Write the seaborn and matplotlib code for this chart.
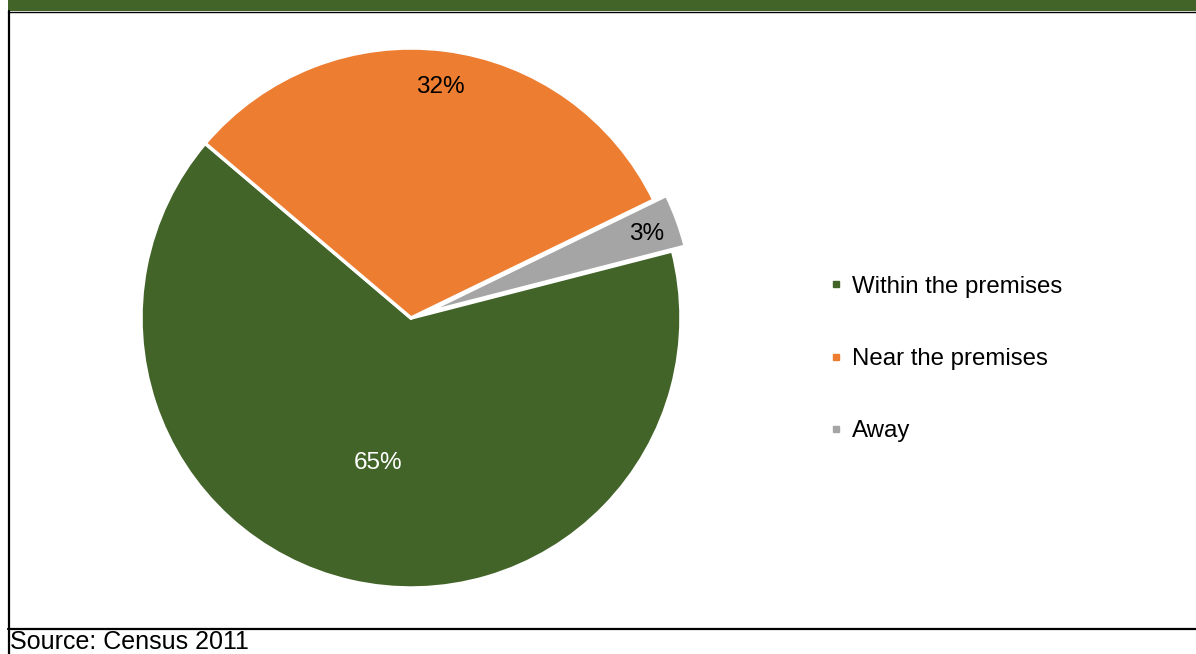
import numpy as np
import matplotlib
matplotlib.use("Agg")
import matplotlib.pyplot as plt
import seaborn as sns
from matplotlib.lines import Line2D
from matplotlib.patches import Rectangle

categories = ["Within the premises", "Near the premises", "Away"]
values = [65.2, 31.6, 3.2]
labels_pct = ["65%", "32%", "3%"]
colors = ["#426428", "#ED7D31", "#A5A5A5"]
source = "Source: Census 2011"

sns.set_theme(style="white")
plt.rcParams['font.family'] = ['Liberation Sans', 'DejaVu Sans']
plt.rcParams['text.color'] = 'black'

W, H = 1196, 654
fig = plt.figure(figsize=(W / 100, H / 100), dpi=100)

# pie axes: center (411,318), radius 270 px
r = 270
cx, cy = 411, 318
ax = fig.add_axes([(cx - r) / W, 1 - (cy + r) / H, 2 * r / W, 2 * r / H])
wedges, texts, autotexts = ax.pie(
    values, colors=colors, startangle=14.4, counterclock=False,
    explode=[0, 0, 0.05], radius=1.0,
    autopct=lambda p: "", pctdistance=0.88,
    wedgeprops=dict(edgecolor="white", linewidth=2.5),
)
dists = [0.54, 0.87, 0.88]
for w, lab, d, at in zip(wedges, labels_pct, dists, autotexts):
    ang = np.deg2rad((w.theta1 + w.theta2) / 2)
    x0, y0 = w.center
    at.set_text(lab)
    at.set_position((x0 + d * np.cos(ang), y0 + d * np.sin(ang)))
    at.set_fontsize(17.5)
    at.set_color("white" if lab == "65%" else "black")
    at.set_ha("center")
    at.set_va("center_baseline")
ax.set_xlim(-1, 1)
ax.set_ylim(-1, 1)
ax.set_aspect("equal")
ax.axis("off")

handles = [Line2D([0], [0], marker="s", linestyle="", markersize=5,
                  markerfacecolor=c, markeredgecolor=c) for c in colors]
leg = fig.legend(handles, categories, loc="center left",
                 bbox_to_anchor=(829 / W, 1 - 359 / H), frameon=False,
                 fontsize=17.3, labelspacing=2.1, handlelength=0.6,
                 handletextpad=0.35, borderpad=0, borderaxespad=0)
for t in leg.get_texts():
    t.set_color("black")

# decorations: header bar, borders
fig.add_artist(Rectangle((8 / W, 1 - 11 / H), 1 - 8 / W, 11 / H,
                         transform=fig.transFigure, facecolor="#426428",
                         edgecolor="none"))
fig.add_artist(Line2D([8 / W, 1], [1 - 11.5 / H, 1 - 11.5 / H],
                      transform=fig.transFigure, color="black", lw=1.0))
fig.add_artist(Line2D([9 / W, 9 / W], [0, 1 - 11 / H],
                      transform=fig.transFigure, color="black", lw=1.6))
fig.add_artist(Line2D([8 / W, 1], [1 - 628.5 / H, 1 - 628.5 / H],
                      transform=fig.transFigure, color="black", lw=1.6))

fig.text(10 / W, 1 - 642 / H, source, fontsize=18, ha="left", va="center",
         color="black")

fig.savefig("out.png", dpi=100, facecolor="white")
